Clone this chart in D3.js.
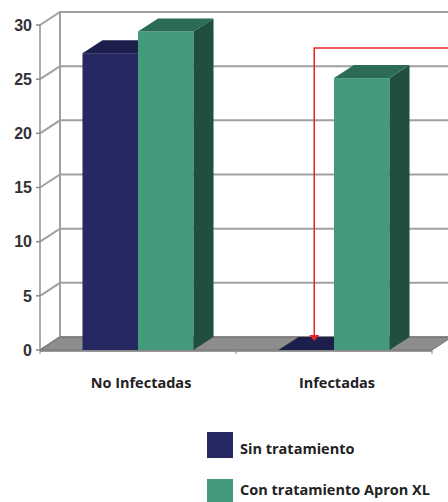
<!DOCTYPE html>
<html>
<head>
<meta charset="utf-8">
<script src="https://cdn.jsdelivr.net/npm/d3@7"></script>
<style>
  body { margin: 0; background: #fff; }
  svg { display: block; }
</style>
</head>
<body>
<div class="chart"></div>
<script>
// chart data
var categories = ["No Infectadas", "Infectadas"];
var series = ["Sin tratamiento", "Con tratamiento Apron XL"];
var sinTratamiento = [27.4, 0];
var conTratamiento = [29.4, 25.1];
var yTicks = [0, 5, 10, 15, 20, 25, 30];

var svgWidth = 448;
var svgHeight = 502;

// front plane of the 3d box
var plot = { left: 40, right: 432, top: 25, bottom: 350 };
// depth offset
var dx = 20, dy = 13;

var colors = [
  { front: "#262862", top: "#1c1e4c", side: "#181a40" },
  { front: "#449b7c", top: "#2c6b55", side: "#214f3f" }
];

var svg = d3.select(".chart")
  .append("svg")
  .attr("width", svgWidth)
  .attr("height", svgHeight);

var yScale = d3.scaleLinear()
  .domain([0, 30])
  .range([plot.bottom, plot.top]);

var xScale = d3.scaleBand()
  .domain(categories)
  .range([plot.left, plot.right]);

var innerScale = d3.scaleBand()
  .domain(series)
  .range([0, xScale.bandwidth()])
  .paddingInner(0)
  .paddingOuter(0.765);

// gridlines: side wall diagonal + back wall line
var grid = svg.append("g");
yTicks.forEach(function(t) {
  var y = yScale(t);
  grid.append("path")
    .attr("d", `M${plot.left},${y} L${plot.left + dx},${y - dy} L${plot.right + dx},${y - dy}`)
    .attr("fill", "none")
    .attr("stroke", "#a0a0a0")
    .attr("stroke-width", 2);
});

// back wall left edge and front axis line
grid.append("line")
  .attr("x1", plot.left + dx).attr("x2", plot.left + dx)
  .attr("y1", plot.top - dy).attr("y2", plot.bottom - dy)
  .attr("stroke", "#a0a0a0").attr("stroke-width", 2);

grid.append("line")
  .attr("x1", plot.left).attr("x2", plot.left)
  .attr("y1", plot.top).attr("y2", plot.bottom)
  .attr("stroke", "#909090").attr("stroke-width", 1.5);

// floor
svg.append("path")
  .attr("d", `M${plot.left},${plot.bottom} L${plot.right},${plot.bottom} L${plot.right + dx},${plot.bottom - dy} L${plot.left + dx},${plot.bottom - dy} Z`)
  .attr("fill", "#8d8d8d")
  .attr("stroke", "#6e6e6e")
  .attr("stroke-width", 1);

svg.append("line")
  .attr("x1", plot.left).attr("x2", plot.right)
  .attr("y1", plot.bottom + 1).attr("y2", plot.bottom + 1)
  .attr("stroke", "#777").attr("stroke-width", 1.5);

// y axis ticks + labels
var yAxis = svg.append("g");
yTicks.forEach(function(t) {
  var y = yScale(t);
  yAxis.append("line")
    .attr("x1", plot.left - 4).attr("x2", plot.left)
    .attr("y1", y).attr("y2", y)
    .attr("stroke", "#888").attr("stroke-width", 1.5);
  yAxis.append("text")
    .attr("x", 32)
    .attr("y", y)
    .attr("dy", "0.36em")
    .attr("text-anchor", "end")
    .attr("font-family", "Liberation Sans, Arial, sans-serif")
    .attr("font-weight", "bold")
    .attr("font-size", 16)
    .attr("fill", "#333")
    .text(t);
});

// category ticks under the floor
[plot.left, plot.left + xScale.bandwidth(), plot.right].forEach(function(x) {
  svg.append("line")
    .attr("x1", x).attr("x2", x)
    .attr("y1", plot.bottom).attr("y2", plot.bottom + 4)
    .attr("stroke", "#888").attr("stroke-width", 1);
});

// 3d bars, drawn left to right
var bars = svg.append("g");
categories.forEach(function(cat, ci) {
  [sinTratamiento, conTratamiento].forEach(function(vals, si) {
    var x0 = xScale(cat) + innerScale(series[si]);
    var w = innerScale.bandwidth();
    var yTop = yScale(vals[ci]);
    var c = colors[si];
    var b = bars.append("g");
    if (yTop < plot.bottom) {
      b.append("rect")
        .attr("x", x0).attr("y", yTop)
        .attr("width", w).attr("height", plot.bottom - yTop)
        .attr("fill", c.front);
      b.append("path")
        .attr("d", `M${x0 + w},${yTop} L${x0 + w + dx},${yTop - dy} L${x0 + w + dx},${plot.bottom - dy} L${x0 + w},${plot.bottom} Z`)
        .attr("fill", c.side);
    }
    b.append("path")
      .attr("d", `M${x0},${yTop} L${x0 + w},${yTop} L${x0 + w + dx},${yTop - dy} L${x0 + dx},${yTop - dy} Z`)
      .attr("fill", c.top);
  });
});

// category labels
svg.selectAll(".cat-label")
  .data(categories)
  .enter()
  .append("text")
  .attr("class", "cat-label")
  .attr("x", d => xScale(d) + xScale.bandwidth() / 2 + 3)
  .attr("y", 388)
  .attr("text-anchor", "middle")
  .attr("font-family", "Open Sans, sans-serif")
  .attr("font-weight", "bold")
  .attr("font-size", 14.5)
  .attr("fill", "#222")
  .text(d => d);

// red annotation arrow pointing at the zero bar
var arrowX = xScale("Infectadas") + innerScale(series[0]) + innerScale.bandwidth() / 2 + dx / 2 - 2;
var arrowTop = 48;
var arrowTip = plot.bottom - 9;
svg.append("path")
  .attr("d", `M${svgWidth},${arrowTop} L${arrowX},${arrowTop} L${arrowX},${arrowTip - 5}`)
  .attr("fill", "none")
  .attr("stroke", "#e8222a")
  .attr("stroke-width", 1.5);
svg.append("path")
  .attr("d", `M${arrowX - 5},${arrowTip - 6} L${arrowX + 5},${arrowTip - 6} L${arrowX},${arrowTip} Z`)
  .attr("fill", "#e8222a");

// legend
var legend = svg.append("g")
  .attr("transform", "translate(207, 432)");

series.forEach(function(s, i) {
  legend.append("rect")
    .attr("y", i * 47)
    .attr("width", 26).attr("height", 26)
    .attr("fill", colors[i].front);
  legend.append("text")
    .attr("x", 33)
    .attr("y", 22 + i * 41)
    .attr("font-family", "Open Sans, sans-serif")
    .attr("font-weight", "bold")
    .attr("font-size", 14.5)
    .attr("fill", "#222")
    .text(s);
});
</script>
</body>
</html>
